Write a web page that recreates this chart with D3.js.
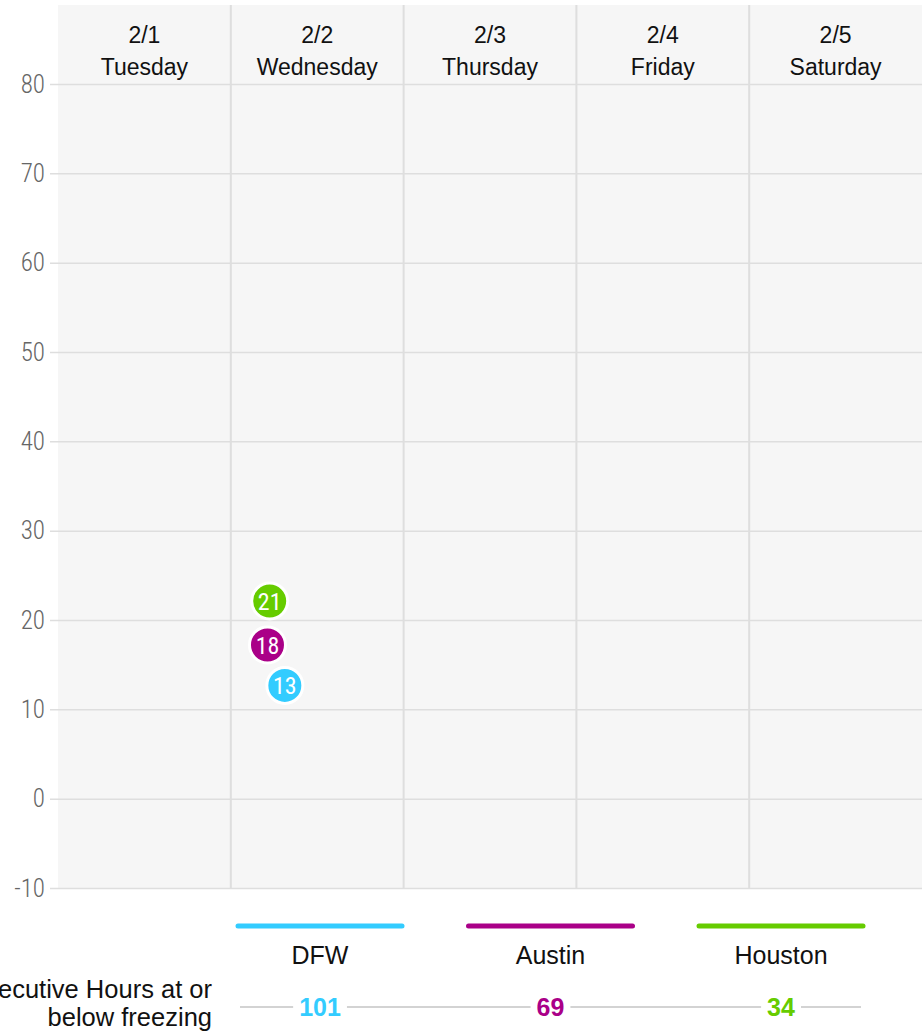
<!DOCTYPE html>
<html>
<head>
<meta charset="utf-8">
<script src="https://cdn.jsdelivr.net/npm/d3@7"></script>
<style>
  body { margin: 0; background: #fff; }
  svg { display: block; }
</style>
</head>
<body>
<div id="chart"></div>
<script>
///////////////////////////////////////////////////////////////////////////
///////////////////////////////// Data ////////////////////////////////////
///////////////////////////////////////////////////////////////////////////
var days = ["2022-02-01", "2022-02-02", "2022-02-03", "2022-02-04", "2022-02-05"]
var dayDates = ["2/1", "2/2", "2/3", "2/4", "2/5"]
var dayNames = ["Tuesday", "Wednesday", "Thursday", "Friday", "Saturday"]

var cities = ["DFW", "Austin", "Houston"]
var cityColors = ["#33ccff", "#aa0088", "#66cc00"]
// coldest reading per city (time, temp)
var lowTimes = ["2022-02-02T07:20", "2022-02-02T05:20", "2022-02-02T05:20"]
var lowTemps = [13, 18, 21]
var freezingHours = [101, 69, 34]

var yTicks = [-10, 0, 10, 20, 30, 40, 50, 60, 70, 80]

///////////////////////////////////////////////////////////////////////////
//////////////////////////////// Globals //////////////////////////////////
///////////////////////////////////////////////////////////////////////////
var totalWidth = 923
var totalHeight = 1036
var margin = { top: 5, right: 1, bottom: 148, left: 58 }
var width = totalWidth - margin.left - margin.right
var height = totalHeight - margin.top - margin.bottom
var headerHeight = 79

var narrow = "'Roboto Condensed', 'Liberation Sans Narrow', 'Arial Narrow', 'DejaVu Sans Condensed', sans-serif"
var regular = "'Liberation Sans', Arial, sans-serif"

var svg = d3.select("#chart").append("svg")
  .attr("width", totalWidth)
  .attr("height", totalHeight)

var g = svg.append("g")
  .attr("transform", "translate(" + margin.left + "," + margin.top + ")")

///////////////////////////////////////////////////////////////////////////
//////////////////////////////// Scales ///////////////////////////////////
///////////////////////////////////////////////////////////////////////////
var parseDay = d3.timeParse("%Y-%m-%d")
var parseTime = d3.timeParse("%Y-%m-%dT%H:%M")

var xScale = d3.scaleTime()
  .domain([parseDay(days[0]), d3.timeDay.offset(parseDay(days[days.length - 1]), 1)])
  .range([0, width])

var yScale = d3.scaleLinear()
  .domain([-10, 80])
  .range([height, headerHeight])

///////////////////////////////////////////////////////////////////////////
///////////////////////////// Background, grid ////////////////////////////
///////////////////////////////////////////////////////////////////////////
g.append("rect")
  .attr("width", width)
  .attr("height", height)
  .attr("fill", "#f6f6f6")

// horizontal grid + y labels
var yAxis = g.append("g")
  .call(d3.axisLeft(yScale)
    .tickValues(yTicks)
    .tickFormat(d => String(d)) // plain hyphen, like the original
    .tickSize(-width - 8)
    .tickPadding(6))

yAxis.select(".domain").remove()
yAxis.selectAll(".tick line")
  .attr("x1", -8)
  .attr("x2", width)
  .attr("stroke", "#dedede")
  .attr("stroke-width", 1.5)
yAxis.selectAll(".tick text")
  .attr("x", -13)
  .attr("fill", "#666")
  .style("font-family", narrow)
  .style("font-weight", 300)
  .style("font-size", "25px")

// vertical day separators
g.selectAll(".day-line")
  .data(days.slice(1))
  .join("line")
  .attr("class", "day-line")
  .attr("x1", d => xScale(parseDay(d)))
  .attr("x2", d => xScale(parseDay(d)))
  .attr("y1", 0)
  .attr("y2", height)
  .attr("stroke", "#dedede")
  .attr("stroke-width", 2)

// day headers
var headers = g.selectAll(".day-label")
  .data(days)
  .join("text")
  .attr("class", "day-label")
  .attr("text-anchor", "middle")
  .attr("transform", d => "translate(" + (xScale(parseDay(d)) + xScale(d3.timeDay.offset(parseDay(d), 1))) / 2 + ",0)")
  .style("font-family", regular)
  .style("font-size", "23px")
  .attr("fill", "#111")

headers.append("tspan")
  .attr("x", 0)
  .attr("y", 38)
  .text((d, i) => dayDates[i])
headers.append("tspan")
  .attr("x", 0)
  .attr("y", 70)
  .text((d, i) => dayNames[i])

///////////////////////////////////////////////////////////////////////////
///////////////////////// Low points (collided) ///////////////////////////
///////////////////////////////////////////////////////////////////////////
var nodes = cities.map((c, i) => {
  return {
    city: c,
    color: cityColors[i],
    temp: lowTemps[i],
    tx: xScale(parseTime(lowTimes[i])),
    ty: yScale(lowTemps[i]),
    x: xScale(parseTime(lowTimes[i])),
    y: yScale(lowTemps[i])
  }
})

var simulation = d3.forceSimulation(nodes)
  .force("x", d3.forceX(d => d.tx).strength(0.3))
  .force("y", d3.forceY(d => d.ty).strength(0.3))
  .force("collide", d3.forceCollide(22))
  .stop()

for (var i = 0; i < 300; i++) simulation.tick()

var dots = g.selectAll(".dot")
  .data(nodes)
  .join("g")
  .attr("class", "dot")
  .attr("transform", d => "translate(" + d.x + "," + d.y + ")")

dots.append("circle")
  .attr("r", 18)
  .attr("fill", d => d.color)
  .attr("stroke", "#fff")
  .attr("stroke-width", 3)

dots.append("text")
  .attr("text-anchor", "middle")
  .attr("dy", "0.36em")
  .attr("fill", "#fff")
  .style("font-family", narrow)
  .style("font-size", "24px")
  .text(d => d.temp)

///////////////////////////////////////////////////////////////////////////
//////////////////////////////// Legend ///////////////////////////////////
///////////////////////////////////////////////////////////////////////////
var legendScale = d3.scalePoint()
  .domain(cities)
  .range([320, 781])

var legend = svg.append("g")

legend.selectAll(".key")
  .data(cities)
  .join("line")
  .attr("class", "key")
  .attr("x1", d => legendScale(d) - 82)
  .attr("x2", d => legendScale(d) + 82)
  .attr("y1", 926)
  .attr("y2", 926)
  .attr("stroke", (d, i) => cityColors[i])
  .attr("stroke-width", 5)
  .attr("stroke-linecap", "round")

legend.selectAll(".city")
  .data(cities)
  .join("text")
  .attr("class", "city")
  .attr("x", d => legendScale(d))
  .attr("y", 964)
  .attr("text-anchor", "middle")
  .style("font-family", regular)
  .style("font-size", "25px")
  .attr("fill", "#111")
  .text(d => d)

// consecutive hours row
legend.append("line")
  .attr("x1", legendScale(cities[0]) - 80)
  .attr("x2", legendScale(cities[cities.length - 1]) + 80)
  .attr("y1", 1007)
  .attr("y2", 1007)
  .attr("stroke", "#c4c4c4")
  .attr("stroke-width", 1.5)

var hours = legend.selectAll(".hours")
  .data(cities)
  .join("g")
  .attr("class", "hours")
  .attr("transform", d => "translate(" + legendScale(d) + ",1007)")

hours.append("rect")
  .attr("fill", "#fff")
hours.append("text")
  .attr("text-anchor", "middle")
  .attr("dy", "0.36em")
  .attr("fill", (d, i) => cityColors[i])
  .style("font-family", regular)
  .style("font-size", "25px")
  .style("font-weight", "bold")
  .text((d, i) => freezingHours[i])

hours.each(function() {
  var bb = d3.select(this).select("text").node().getBBox()
  d3.select(this).select("rect")
    .attr("x", bb.x - 6)
    .attr("y", bb.y)
    .attr("width", bb.width + 12)
    .attr("height", bb.height)
})

var side = legend.append("text")
  .attr("text-anchor", "end")
  .style("font-family", regular)
  .style("font-size", "25.5px")
  .attr("fill", "#111")
side.append("tspan").attr("x", 212).attr("y", 998).text("Consecutive Hours at or")
side.append("tspan").attr("x", 212).attr("y", 1026).text("below freezing")
</script>
</body>
</html>
